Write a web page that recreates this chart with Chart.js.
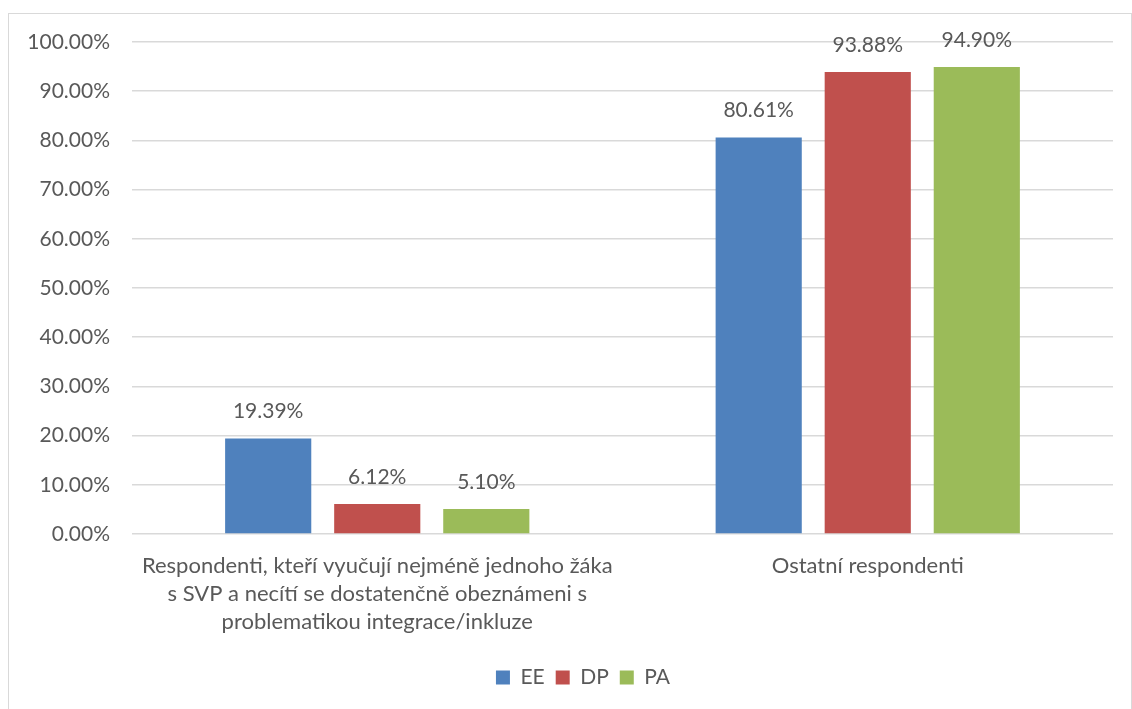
<!DOCTYPE html>
<html>
<head>
<meta charset="utf-8">
<script src="https://cdn.jsdelivr.net/npm/chart.js@4"></script>
<style>
  html, body { margin: 0; padding: 0; background: #fff; overflow: hidden; }
  #frame {
    position: absolute; left: 8px; top: 13px;
    width: 1122px; height: 700px;
    border: 1px solid #d9d9d9;
  }
  #chartCanvas { display: block; }
</style>
</head>
<body>
<div id="frame"><canvas id="chartCanvas" width="1122" height="700"></canvas></div>
<script>
const categories = [
  ["Respondenti, kteří vyučují nejméně jednoho žáka", "s SVP a necítí se dostatenčně obeznámeni s", "problematikou integrace/inkluze"],
  "Ostatní respondenti"
];
const seriesNames = ["EE", "DP", "PA"];
const eeValues = [19.39, 80.61];
const dpValues = [6.12, 93.88];
const paValues = [5.10, 94.90];
const yTicks = [0, 10, 20, 30, 40, 50, 60, 70, 80, 90, 100];

const FONT = "Lato, 'Open Sans', sans-serif";
const TEXT = '#595959';

// writes the percentage above each bar
const barLabels = {
  id: 'barLabels',
  afterDatasetsDraw(chart) {
    const ctx = chart.ctx;
    ctx.save();
    ctx.font = "21px " + FONT;
    ctx.fillStyle = TEXT;
    ctx.textAlign = 'center';
    ctx.textBaseline = 'middle';
    chart.data.datasets.forEach((ds, i) => {
      chart.getDatasetMeta(i).data.forEach((bar, j) => {
        ctx.fillText(ds.data[j].toFixed(2) + '%', bar.x, bar.y - 27);
      });
    });
    ctx.restore();
  }
};

// nudge the legend a bit to the right of the canvas centre
const legendShift = {
  id: 'legendShift',
  afterLayout(chart) {
    chart.legend.left += 22;
    chart.legend.right += 22;
  }
};

const ctx = document.getElementById("chartCanvas").getContext("2d");
const chart = new Chart(ctx, {
  type: 'bar',
  data: {
    labels: categories,
    datasets: [
      { label: seriesNames[0], data: eeValues, backgroundColor: '#4f81bd' },
      { label: seriesNames[1], data: dpValues, backgroundColor: '#c0504d' },
      { label: seriesNames[2], data: paValues, backgroundColor: '#9bbb59' }
    ]
  },
  options: {
    responsive: false,
    animation: false,
    categoryPercentage: 0.667,
    barPercentage: 0.79,
    layout: { padding: { top: 28, right: 18, left: 0, bottom: 16 } },
    scales: {
      x: {
        grid: { display: false },
        border: { display: false },
        ticks: {
          color: TEXT,
          font: { family: FONT, size: 22, lineHeight: 1.27 },
          padding: 10,
          maxRotation: 0,
          autoSkip: false
        },
        afterFit(scale) { scale.height = 122; }
      },
      y: {
        min: 0,
        max: 100,
        afterBuildTicks(scale) { scale.ticks = yTicks.map(v => ({ value: v })); },
        grid: {
          color: '#d9d9d9',
          lineWidth: 1.5,
          drawTicks: true,
          tickLength: 20,
          tickColor: 'rgba(0,0,0,0)'
        },
        border: { display: false },
        ticks: {
          color: TEXT,
          font: { family: FONT, size: 21 },
          padding: 2,
          callback: v => v.toFixed(2) + '%'
        },
        afterFit(scale) { scale.width = 123; }
      }
    },
    plugins: {
      legend: {
        position: 'bottom',
        labels: {
          color: TEXT,
          font: { family: FONT, size: 21 },
          boxWidth: 14,
          boxHeight: 14,
          padding: 11
        }
      },
      tooltip: { enabled: false }
    }
  },
  plugins: [barLabels, legendShift]
});
</script>
</body>
</html>
